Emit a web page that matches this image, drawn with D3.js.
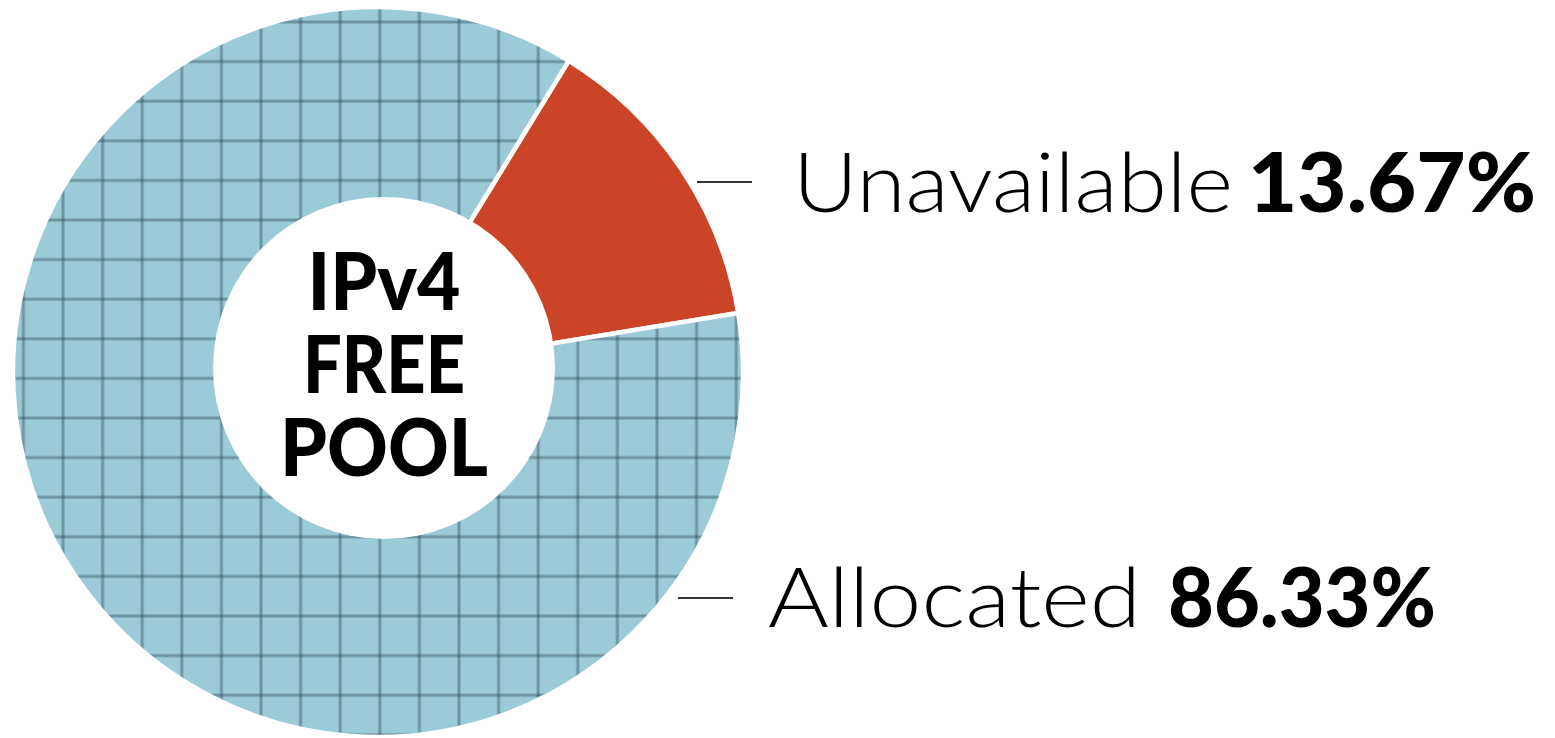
<!DOCTYPE html>
<html>
<head>
<meta charset="utf-8">
<script src="https://cdn.jsdelivr.net/npm/d3@7"></script>
<style>
  html, body { margin: 0; padding: 0; background: #fff; }
  svg { display: block; }
</style>
</head>
<body>
<div id="chart"></div>
<script>
// data
var categories = ["Unavailable", "Allocated"];
var shares = [13.67, 86.33];
var valueLabels = ["13.67%", "86.33%"];
var centerLines = ["IPv4", "FREE", "POOL"];

var width = 1555, height = 738;
var cx = 378, cy = 372, outerR = 365;
var holeX = 384, holeY = 368, holeR = 171;
var cell = 39.6;

var svg = d3.select("#chart").append("svg")
    .attr("width", width)
    .attr("height", height);

// grid hatch for the allocated part (pattern space is the translated group)
var defs = svg.append("defs");
var pat = defs.append("pattern")
    .attr("id", "grid")
    .attr("patternUnits", "userSpaceOnUse")
    .attr("x", 63 - cell / 2 - cx)
    .attr("y", 22 - cell / 2 - cy)
    .attr("width", cell)
    .attr("height", cell);
pat.append("rect").attr("width", cell).attr("height", cell).attr("fill", "#9bcbd7");
pat.append("line").attr("x1", cell / 2).attr("x2", cell / 2).attr("y1", 0).attr("y2", cell)
    .attr("stroke", "#2a4a55").attr("stroke-opacity", 0.42).attr("stroke-width", 3);
pat.append("line").attr("y1", cell / 2).attr("y2", cell / 2).attr("x1", 0).attr("x2", cell)
    .attr("stroke", "#2a4a55").attr("stroke-opacity", 0.42).attr("stroke-width", 3);

var fills = ["#cc4428", "url(#grid)"];

var start = 31.5 * Math.PI / 180;
var pie = d3.pie().sort(null).value(function(d){ return d; })
    .startAngle(start).endAngle(start + 2 * Math.PI);
var arc = d3.arc().innerRadius(0).outerRadius(outerR);

var g = svg.append("g").attr("transform", "translate(" + cx + "," + cy + ")");
g.selectAll("path").data(pie(shares)).enter()
    .append("path")
    .attr("d", arc)
    .attr("fill", function(d, i){ return fills[i]; })
    .attr("stroke", "#fff")
    .attr("stroke-width", 4.5)
    .attr("stroke-linejoin", "round");

// the hole
svg.append("circle")
    .attr("cx", holeX).attr("cy", holeY).attr("r", holeR)
    .attr("fill", "#fff");

var center = svg.append("g");
center.selectAll("text").data(centerLines).enter()
    .append("text")
    .attr("x", holeX)
    .attr("y", function(d, i){ return 310 + i * 83; })
    .attr("text-anchor", "middle")
    .attr("font-family", "Lato, 'DejaVu Sans', sans-serif")
    .attr("font-weight", 900)
    .attr("font-size", 80)
    .attr("fill", "#000")
    .attr("textLength", function(d, i){ return [153, 162, 208][i]; })
    .attr("lengthAdjust", "spacingAndGlyphs")
    .text(function(d){ return d; });

// labels with leader lines
var labelPos = [
  {lx1: 697, lx2: 752, ly: 182, nx: 793, nw: 440, vx: 1248, vw: 288, base: 212},
  {lx1: 678, lx2: 733, ly: 598, nx: 768, nw: 373, vx: 1168, vw: 268, base: 627}
];

var labels = svg.selectAll("g.label").data(categories).enter()
    .append("g").attr("class", "label");

labels.append("line")
    .attr("x1", function(d, i){ return labelPos[i].lx1; })
    .attr("x2", function(d, i){ return labelPos[i].lx2; })
    .attr("y1", function(d, i){ return labelPos[i].ly; })
    .attr("y2", function(d, i){ return labelPos[i].ly; })
    .attr("stroke", "#333")
    .attr("stroke-width", 2);

labels.append("text")
    .attr("x", function(d, i){ return labelPos[i].nx; })
    .attr("y", function(d, i){ return labelPos[i].base; })
    .attr("font-family", "Lato, 'Open Sans', sans-serif")
    .attr("font-weight", 300)
    .attr("font-size", 82)
    .attr("fill", "#000")
    .attr("textLength", function(d, i){ return labelPos[i].nw; })
    .attr("lengthAdjust", "spacingAndGlyphs")
    .text(function(d){ return d; });

labels.append("text")
    .attr("x", function(d, i){ return labelPos[i].vx; })
    .attr("y", function(d, i){ return labelPos[i].base; })
    .attr("font-family", "Lato, 'DejaVu Sans', sans-serif")
    .attr("font-weight", 900)
    .attr("font-size", 82)
    .attr("fill", "#000")
    .attr("textLength", function(d, i){ return labelPos[i].vw; })
    .attr("lengthAdjust", "spacingAndGlyphs")
    .text(function(d, i){ return valueLabels[i]; });
</script>
</body>
</html>
